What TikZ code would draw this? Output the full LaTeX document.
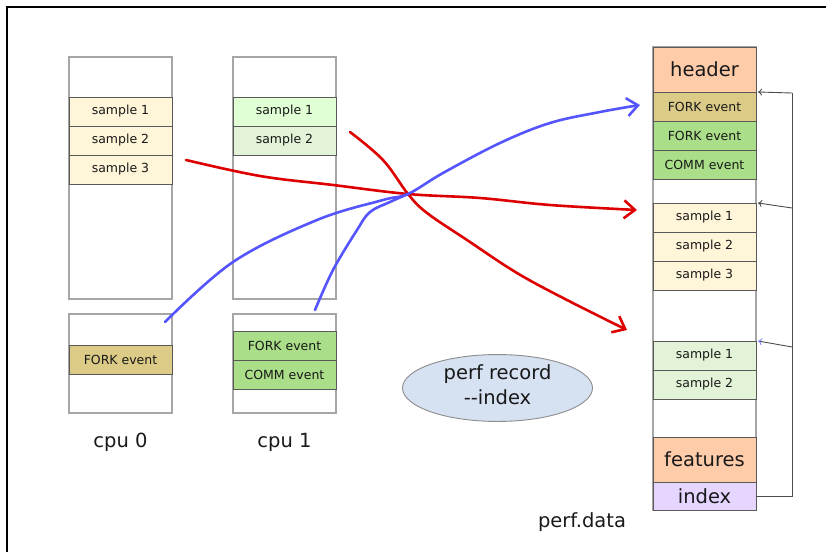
\documentclass[tikz,border=0pt]{standalone}
\usepackage{fontspec}
\setmainfont{DejaVu Sans}
\usetikzlibrary{arrows.meta,calc,positioning,shapes.geometric}
\definecolor{pastelyellow}{HTML}{FFF5D9}
\definecolor{mintlight}{HTML}{E0FFD4}
\definecolor{mintpale}{HTML}{E2F3D7}
\definecolor{khaki}{HTML}{DCCB87}
\definecolor{leafgreen}{HTML}{AADE88}
\definecolor{pastelpeach}{HTML}{FFCCAA}
\definecolor{lavender}{HTML}{E5D5FF}
\definecolor{pastelblue}{HTML}{D6E1F2}
\definecolor{penred}{HTML}{DD0000}
\definecolor{penblue}{HTML}{5555FF}
\newcommand{\chico}{\fontsize{12.5}{15}\selectfont}
\newcommand{\grande}{\fontsize{19.5}{25}\selectfont}
\tikzset{
  columna/.style={
    draw=black!35,
    line width=1.2pt,
    fill=white,
    minimum width=103pt,
    inner sep=0pt,
    outer sep=0pt
  },
  celda/.style={
    draw=black!65,
    line width=0.9pt,
    minimum width=103pt,
    minimum height=29pt,
    inner sep=0pt,
    outer sep=0pt,
    align=center,
    text=black!90,
    font=\chico
  },
  bloque/.style={
    celda,
    minimum height=45pt,
    font=\grande
  },
  etiqueta/.style={
    inner sep=0pt,
    text=black!90,
    font=\grande
  },
  trazo/.style={
    -{Straight Barb[length=11pt,width=18pt]},
    line width=2.6pt,
    line cap=round,
    line join=round
  },
  puntero/.style={
    -{To[length=4pt,width=7pt]},
    draw=black!70,
    line width=0.9pt
  }
}

\begin{document}
\begin{tikzpicture}[x=1pt,y=1pt]
\useasboundingbox (0,0) rectangle (826,552);
\draw[line width=1.2pt] (7,0) -- (7,545) -- (826,545);

% cpu 0
\node[columna, minimum height=242pt] (c0a) at (120.5,374) {};
\node[celda, fill=pastelyellow, below=40pt of c0a.north] (c0s1) {sample 1};
\node[celda, fill=pastelyellow, below=0pt of c0s1] (c0s2) {sample 2};
\node[celda, fill=pastelyellow, below=0pt of c0s2] (c0s3) {sample 3};
\node[columna, minimum height=99pt] (c0b) at (120.5,188.5) {};
\node[celda, fill=khaki, below=31pt of c0b.north] (c0f) {FORK event};
\node[etiqueta, below=20pt of c0b] (cpu0) {cpu 0};

% cpu 1
\node[columna, minimum height=242pt] (c1a) at (284.5,374) {};
\node[celda, fill=mintlight, below=40pt of c1a.north] (c1s1) {sample 1};
\node[celda, fill=mintpale, below=0pt of c1s1] (c1s2) {sample 2};
\node[columna, minimum height=99pt] (c1b) at (284.5,188.5) {};
\node[celda, fill=leafgreen, below=17pt of c1b.north] (c1f) {FORK event};
\node[celda, fill=leafgreen, below=0pt of c1f] (c1c) {COMM event};
\node[etiqueta, below=20pt of c1b] (cpu1) {cpu 1};

% perf.data
\node[columna, minimum height=463pt] (perf) at (704.5,273.5) {};
\node[bloque, fill=pastelpeach, below=0pt of perf.north] (hdr) {header};
\node[celda, fill=khaki, below=0pt of hdr] (pf1) {FORK event};
\node[celda, fill=leafgreen, below=0pt of pf1] (pf2) {FORK event};
\node[celda, fill=leafgreen, below=0pt of pf2] (pcm) {COMM event};
\node[celda, fill=pastelyellow, below=24pt of pcm] (ps1) {sample 1};
\node[celda, fill=pastelyellow, below=0pt of ps1] (ps2) {sample 2};
\node[celda, fill=pastelyellow, below=0pt of ps2] (ps3) {sample 3};
\node[celda, fill=mintpale, below=51pt of ps3] (pq1) {sample 1};
\node[celda, fill=mintpale, below=0pt of pq1] (pq2) {sample 2};
\node[bloque, fill=pastelpeach, below=38pt of pq2] (feat) {features};
\node[celda, fill=lavender, font=\grande, minimum height=28pt, below=0pt of feat] (idx) {index};
\node[etiqueta] (nombre) at (582,30) {perf.data};

\node[ellipse, draw=black!45, line width=0.9pt, fill=pastelblue, minimum width=190pt, minimum height=62pt,
  inner sep=0pt, align=center, text=black!90, font=\grande] (cmd) at (497.5,164) {perf record\\-\kern0pt-index\strut};

% index pointers
\coordinate (r1) at (792,459);
\coordinate (r2) at (792,344);
\coordinate (r3) at (792,205);
\draw[draw=black!70, line width=0.9pt] (idx.east) -| (r1);
\draw[puntero] (r1) -- ([xshift=2pt]hdr.south east);
\draw[puntero] (r2) -- ([xshift=2pt]ps1.north east);
\draw[puntero, -{To[length=4pt,width=7pt,color=penblue!70]}] (r3) -- ([xshift=2pt]pq1.north east);

% records flowing into the file
\coordinate (cruce) at (408,358);
\coordinate (rojo0) at (186,392);
\coordinate (rojo1) at (350,420);
\coordinate (azul0) at (165,230);
\coordinate (azul1) at (315,242);
\coordinate (fin0) at (637,342);
\coordinate (fin1) at (627,222);
\coordinate (fin2) at (640,447);
\draw[trazo, penred] plot[smooth, tension=0.6] coordinates {(rojo0) (260,376) (333,367) (cruce) (480,354) (550,347) (fin0)};
\draw[trazo, penred] plot[smooth, tension=0.6] coordinates {(rojo1) (383,392) (cruce) (427,339) (467,312) (517,279) (567,252) (fin1)};
\draw[trazo, penblue] plot[smooth, tension=0.6] coordinates {(azul0) (233,290) (317,332) (383,352) (cruce) (443,379) (500,409) (550,429) (600,440) (fin2)};
\draw[line width=2.6pt, line cap=round, penblue] plot[smooth, tension=0.6] coordinates {(azul1) (333,282) (357,322) (370,340) (390,350) (cruce)};
\end{tikzpicture}
\end{document}
